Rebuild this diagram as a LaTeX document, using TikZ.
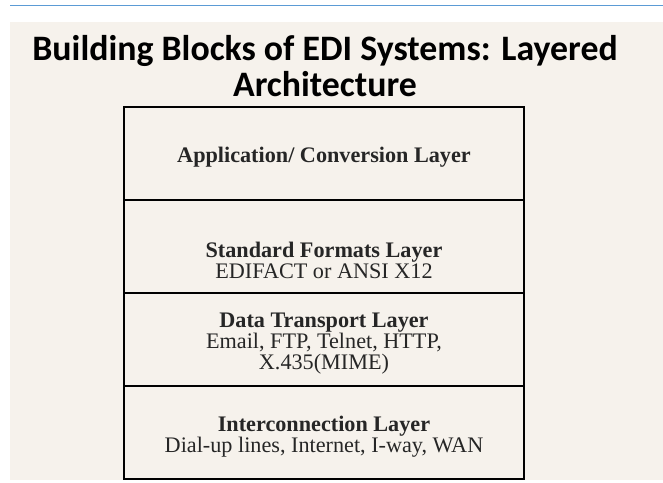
\documentclass[tikz,border=0pt]{standalone}
\usepackage{fontspec}
\setmainfont{Liberation Serif}
\newfontfamily\titlefont{Carlito}
\usetikzlibrary{positioning}

\definecolor{slidebg}{HTML}{F6F2EC}
\definecolor{rulecol}{HTML}{5B9BD5}

\begin{document}
\begin{tikzpicture}[x=1pt,y=-1pt]

      \useasboundingbox (0,0) rectangle (663,482);
      \fill[white] (0,0) rectangle (663,482);
      \fill[slidebg] (10,22) rectangle (663,480);
      \draw[rulecol,line width=1.3pt] (10,5.5) -- (663,5.5);

      % title
      \node[font=\titlefont\bfseries\fontsize{35.8}{36}\selectfont,align=center] (title) at (325,66.5)
        {Building Blocks of EDI Systems: Layered\\Architecture};

      % layer boxes
      \begin{scope}[every node/.style={rectangle,draw,line width=2.8pt,outer sep=0pt,
          minimum width=400pt,minimum height=93pt}]
        \node (1) at (324,153.5) {};
        \node (2) [below=0pt of 1] {};
        \node (3) [below=0pt of 2] {};
        \node (4) [below=0pt of 3] {};
      \end{scope}

      % layer texts
      \begin{scope}[every node/.style={align=center,text=black!85,font=\fontsize{22.2}{21}\selectfont}]
        \node (t1) at (324,157)   {\textbf{Application/ Conversion Layer}};
        \node (t2) at (324,260.5) {\textbf{Standard Formats Layer}\\EDIFACT or ANSI X12};
        \node (t3) at (324,344)   {\textbf{Data Transport Layer}\\Email, FTP, Telnet, HTTP,\\X.435(MIME)};
        \node (t4) at (324,437)   {\textbf{Interconnection Layer}\\Dial-up lines, Internet, I-way, WAN};
      \end{scope}

    \end{tikzpicture}
\end{document}
